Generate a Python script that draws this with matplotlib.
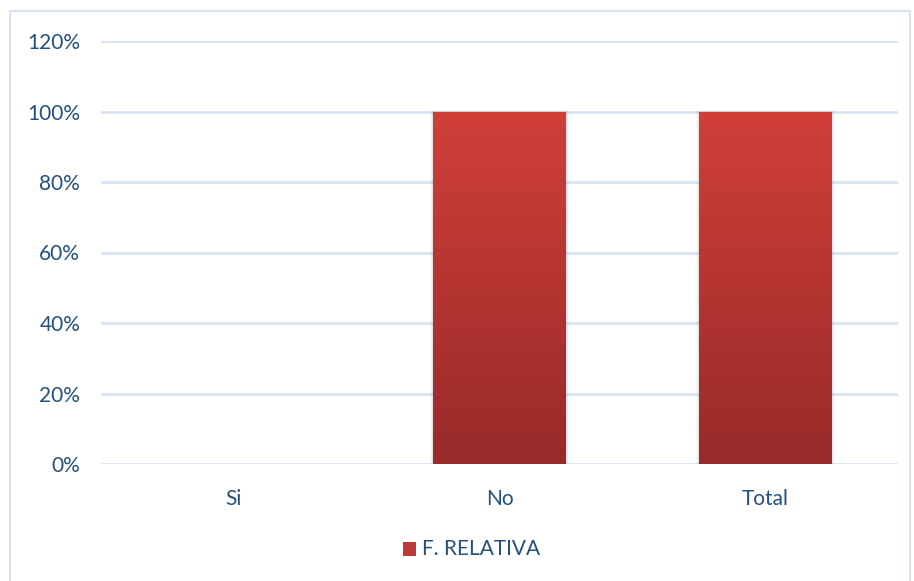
import numpy as np
import matplotlib.pyplot as plt
from matplotlib.colors import LinearSegmentedColormap
from matplotlib.patches import Rectangle
from matplotlib.ticker import PercentFormatter

categories = ['Si', 'No', 'Total']
relativa = [0.0, 1.0, 1.0]
yticks = [0, 0.2, 0.4, 0.6, 0.8, 1.0, 1.2]

TEXT = '#24507f'
GRID = '#d9e3f2'
TOP_RED = '#d13f39'
BOT_RED = '#982a2a'

plt.rcParams['font.family'] = ['Lato', 'DejaVu Sans']

fig = plt.figure(figsize=(9.14, 5.81), dpi=100)

# light outer frame of the chart
fig.patches.append(Rectangle((10 / 914, -0.02), 0.996 - 10 / 914, 1 - 11 / 581 + 0.02,
                             transform=fig.transFigure, fill=False,
                             edgecolor=GRID, lw=1.5))

ax = fig.add_axes((101 / 914, 1 - 464 / 581, 797 / 914, 423 / 581))
x = np.arange(len(categories))
bars = ax.bar(x, relativa, width=0.5, color=TOP_RED, zorder=2)

# vertical gradient inside each bar
cmap = LinearSegmentedColormap.from_list('redgrad', [BOT_RED, TOP_RED])
grad = np.linspace(0, 1, 256).reshape(-1, 1)
for b in bars:
    if b.get_height() <= 0:
        continue
    x0, w, h = b.get_x(), b.get_width(), b.get_height()
    # soft shadow
    for k, a in enumerate([0.05, 0.035, 0.02]):
        ax.add_patch(Rectangle((x0 - 0.004 * (k + 1), -0.004 * (k + 1)),
                               w + 0.008 * (k + 1), h + 0.004 * (k + 1),
                               facecolor='black', alpha=a, lw=0, zorder=1.5))
    im = ax.imshow(grad, cmap=cmap, origin='lower', aspect='auto',
                   extent=(x0, x0 + w, 0, h), zorder=2.5)
    im.set_clip_path(b)

ax.set_xlim(-0.5, len(categories) - 0.5)
ax.set_ylim(0, 1.2)
ax.set_yticks(yticks)
ax.yaxis.set_major_formatter(PercentFormatter(1.0, decimals=0))
ax.set_xticks(x)
ax.set_xticklabels(categories)
ax.grid(axis='y', color=GRID, lw=2, zorder=0)
ax.set_axisbelow(True)
for s in ax.spines.values():
    s.set_visible(False)
ax.tick_params(length=0, labelsize=15, labelcolor=TEXT)
ax.tick_params(axis='y', pad=15)
ax.tick_params(axis='x', pad=18)

# legend
fig.patches.append(Rectangle((403 / 914, 1 - 556 / 581), 13 / 914, 14 / 581,
                             transform=fig.transFigure, facecolor='#c0393a', lw=0))
fig.text(422 / 914, 1 - 549 / 581, 'F. RELATIVA', fontsize=15, color=TEXT,
         va='center', ha='left')

fig.savefig('out.png', dpi=100)
